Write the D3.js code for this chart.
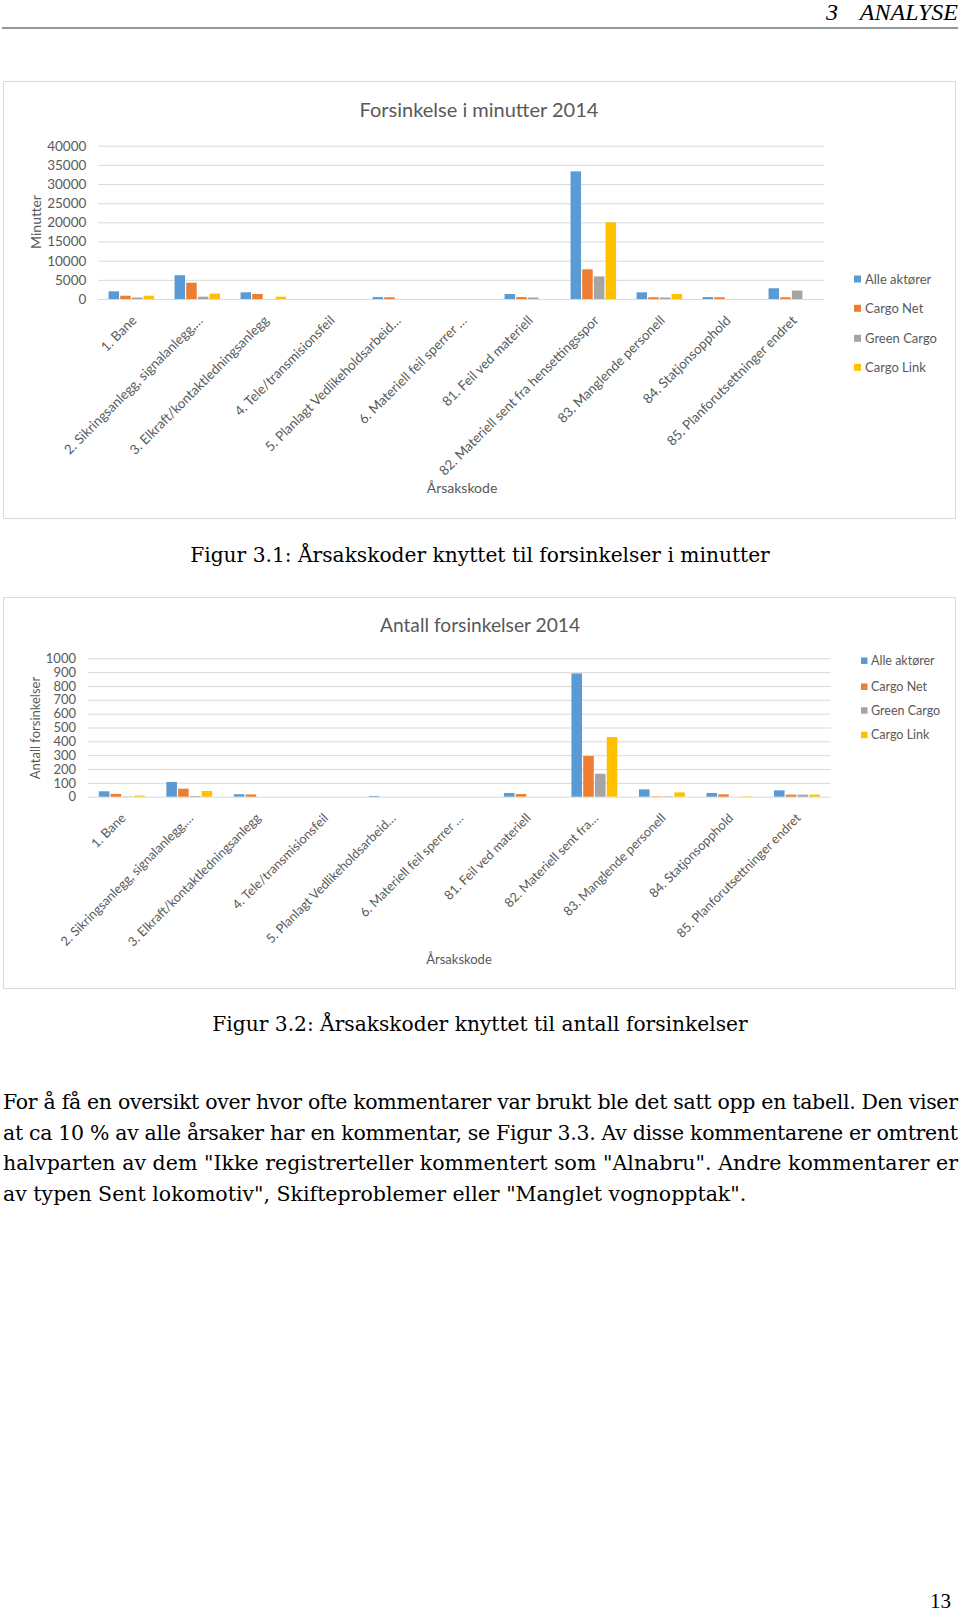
<!DOCTYPE html>
<html>
<head>
<meta charset="utf-8">
<script src="https://cdn.jsdelivr.net/npm/d3@7/dist/d3.min.js"></script>
<style>
  body { margin: 0; background: #fff; }
  svg { display: block; }
</style>
</head>
<body>
<svg id="page" width="960" height="1623"></svg>
<script>
// series shared by both charts
const seriesNames = ['Alle aktører', 'Cargo Net', 'Green Cargo', 'Cargo Link']
const seriesColors = ['#5b9bd5', '#ed7d31', '#a5a5a5', '#ffc000']

// figure 3.1 - minutes
const categoriesMinutes = [
  '1. Bane', '2. Sikringsanlegg, signalanlegg,…', '3. Elkraft/kontaktledningsanlegg',
  '4. Tele/transmisionsfeil', '5. Planlagt Vedlikeholdsarbeid…', '6. Materiell feil sperrer …',
  '81. Feil ved materiell', '82. Materiell sent fra hensettingsspor', '83. Manglende personell',
  '84. Statjonsopphold', '85. Planforutsettninger endret'
]
const minutesAlle = [2000, 6200, 1750, 0, 500, 0, 1300, 33300, 1750, 500, 2800]
const minutesCargoNet = [850, 4250, 1300, 0, 450, 0, 500, 7750, 450, 450, 450]
const minutesGreenCargo = [400, 600, 0, 0, 0, 0, 400, 5900, 400, 0, 2200]
const minutesCargoLink = [850, 1400, 600, 0, 0, 0, 0, 20000, 1300, 0, 0]
const minutesTicks = [0, 5000, 10000, 15000, 20000, 25000, 30000, 35000, 40000]

// figure 3.2 - number of delays
const categoriesCount = [
  '1. Bane', '2. Sikringsanlegg, signalanlegg,…', '3. Elkraft/kontaktledningsanlegg',
  '4. Tele/transmisionsfeil', '5. Planlagt Vedlikeholdsarbeid…', '6. Materiell feil sperrer …',
  '81. Feil ved materiell', '82. Materiell sent fra…', '83. Manglende personell',
  '84. Statjonsopphold', '85. Planforutsettninger endret'
]
const countAlle = [39, 106, 18, 0, 5, 0, 27, 891, 53, 27, 46]
const countCargoNet = [20, 58, 16, 0, 0, 0, 19, 294, 3, 17, 15]
const countGreenCargo = [2, 5, 0, 0, 0, 0, 0, 166, 3, 0, 15]
const countCargoLink = [8, 41, 0, 0, 0, 0, 0, 431, 31, 3, 15]
const countTicks = [0, 100, 200, 300, 400, 500, 600, 700, 800, 900, 1000]

const paragraph = [
  'For å få en oversikt over hvor ofte kommentarer var brukt ble det satt opp en tabell. Den viser',
  'at ca 10 % av alle årsaker har en kommentar, se Figur 3.3. Av disse kommentarene er omtrent',
  'halvparten av dem "Ikke registrerteller kommentert som "Alnabru". Andre kommentarer er',
  'av typen Sent lokomotiv", Skifteproblemer eller "Manglet vognopptak".'
]

const TEXT = '#595959'
const GRID = '#d9d9d9'
const SANS = 'Lato, "Open Sans", sans-serif'
const SERIF = '"DejaVu Serif", serif'

const svg = d3.select('#page')

function drawChart(o) {
  const g = svg.append('g')

  g.append('rect')
    .attr('x', o.box[0] + 0.5).attr('y', o.box[1] + 0.5)
    .attr('width', o.box[2] - o.box[0]).attr('height', o.box[3] - o.box[1])
    .attr('fill', '#fff').attr('stroke', GRID)

  const x0 = d3.scaleBand().domain(o.categories).range([o.left, o.right])
    .paddingInner(o.pad).paddingOuter(o.pad / 2)
  const x1 = d3.scaleBand().domain(seriesNames).range([0, x0.bandwidth()]).paddingInner(0.1)
  const y = d3.scaleLinear().domain([0, d3.max(o.ticks)]).range([o.bottom, o.top])

  // y axis + gridlines
  const ya = g.append('g')
    .attr('transform', `translate(${o.left},0)`)
    .call(d3.axisLeft(y).tickValues(o.ticks).tickFormat(d3.format('d'))
      .tickSize(-(o.right - o.left)).tickPadding(o.tickPad))
  ya.select('.domain').remove()
  ya.selectAll('line').attr('stroke', GRID)
  ya.selectAll('text').attr('fill', TEXT).style('font-family', SANS).style('font-size', o.tickSize + 'px')

  // bars
  const rows = o.categories.map((c, i) => ({
    cat: c,
    values: o.series.map((s, j) => ({ name: seriesNames[j], value: s[i], color: seriesColors[j] }))
  }))
  g.selectAll('g.cat').data(rows).join('g')
    .attr('class', 'cat')
    .attr('transform', d => `translate(${x0(d.cat)},0)`)
    .selectAll('rect').data(d => d.values).join('rect')
    .attr('x', d => x1(d.name))
    .attr('y', d => y(d.value))
    .attr('width', x1.bandwidth())
    .attr('height', d => y(0) - y(d.value))
    .attr('fill', d => d.color)

  // category labels, rotated like excel
  const xa = g.append('g')
    .attr('transform', `translate(0,${o.bottom})`)
    .call(d3.axisBottom(x0).tickSize(0))
  xa.select('.domain').remove()
  xa.selectAll('text')
    .attr('y', 0).attr('dy', '0.35em')
    .attr('text-anchor', 'end')
    .attr('transform', `translate(${o.labelDx},${o.labelDy}) rotate(-45)`)
    .attr('fill', TEXT)
    .style('font-family', SANS).style('font-size', o.labelSize + 'px')

  // titles
  g.append('text')
    .attr('x', o.titleX).attr('y', o.titleY)
    .attr('text-anchor', 'middle').attr('fill', TEXT)
    .style('font-family', SANS).style('font-size', o.titleSize + 'px')
    .text(o.title)

  g.append('text')
    .attr('transform', `translate(${o.yTitleX},${o.yTitleY}) rotate(-90)`)
    .attr('text-anchor', 'middle').attr('dy', '0.35em').attr('fill', TEXT)
    .style('font-family', SANS).style('font-size', o.axisTitleSize + 'px')
    .text(o.yTitle)

  g.append('text')
    .attr('x', o.xTitleX).attr('y', o.xTitleY)
    .attr('text-anchor', 'middle').attr('dy', '0.35em').attr('fill', TEXT)
    .style('font-family', SANS).style('font-size', o.axisTitleSize + 'px')
    .text('Årsakskode')

  // legend
  const lg = g.selectAll('g.legend').data(seriesNames).join('g')
    .attr('class', 'legend')
    .attr('transform', (d, i) => `translate(${o.legendX},${o.legendRows[i]})`)
  lg.append('rect')
    .attr('x', 0).attr('y', -o.legendSq / 2)
    .attr('width', o.legendSq).attr('height', o.legendSq)
    .attr('fill', (d, i) => seriesColors[i])
  lg.append('text')
    .attr('x', o.legendText).attr('dy', '0.35em').attr('fill', TEXT)
    .style('font-family', SANS).style('font-size', o.legendSize + 'px')
    .text(d => d)
}

// page header
svg.append('text').attr('x', 826).attr('y', 20)
  .style('font-family', '"Liberation Serif", serif').style('font-style', 'italic').style('font-size', '24px')
  .text('3')
svg.append('text').attr('x', 958).attr('y', 20).attr('text-anchor', 'end')
  .style('font-family', '"Liberation Serif", serif').style('font-style', 'italic').style('font-size', '24px')
  .text('ANALYSE')
svg.append('line').attr('x1', 2).attr('x2', 958).attr('y1', 28).attr('y2', 28)
  .attr('stroke', '#333').attr('stroke-width', 1.2)

drawChart({
  box: [3, 81, 955, 518],
  left: 98.3, right: 824.3, top: 145.7, bottom: 299,
  pad: 0.31, ticks: minutesTicks, tickPad: 12, tickSize: 13.5,
  categories: categoriesMinutes,
  series: [minutesAlle, minutesCargoNet, minutesGreenCargo, minutesCargoLink],
  labelDx: 3, labelDy: 19, labelSize: 13.4,
  title: 'Forsinkelse i minutter 2014', titleX: 479, titleY: 117, titleSize: 20,
  yTitle: 'Minutter', yTitleX: 36, yTitleY: 222, axisTitleSize: 14,
  xTitleX: 462, xTitleY: 488,
  legendX: 854, legendRows: [279, 308.3, 338.3, 367.3], legendSq: 7, legendText: 11, legendSize: 13
})

drawChart({
  box: [3, 597, 955, 988],
  left: 88, right: 830.7, top: 658.3, bottom: 796.7,
  pad: 0.32, ticks: countTicks, tickPad: 12, tickSize: 13,
  categories: categoriesCount,
  series: [countAlle, countCargoNet, countGreenCargo, countCargoLink],
  labelDx: 1.5, labelDy: 19, labelSize: 12.8,
  title: 'Antall forsinkelser 2014', titleX: 480, titleY: 632, titleSize: 19.2,
  yTitle: 'Antall forsinkelser', yTitleX: 35, yTitleY: 728, axisTitleSize: 13,
  xTitleX: 459, xTitleY: 959,
  legendX: 861, legendRows: [660.7, 686.7, 710.5, 735], legendSq: 6.5, legendText: 10, legendSize: 12.5
})

// captions
svg.append('text').attr('x', 480).attr('y', 562).attr('text-anchor', 'middle')
  .style('font-family', SERIF).style('font-size', '20.2px')
  .text('Figur 3.1: Årsakskoder knyttet til forsinkelser i minutter')
svg.append('text').attr('x', 480).attr('y', 1031).attr('text-anchor', 'middle')
  .style('font-family', SERIF).style('font-size', '20.2px')
  .text('Figur 3.2: Årsakskoder knyttet til antall forsinkelser')

// body text, justified except last line
svg.selectAll('text.para').data(paragraph).join('text')
  .attr('class', 'para')
  .attr('x', 3)
  .attr('y', (d, i) => 1109 + i * 30.5)
  .attr('textLength', (d, i) => i < paragraph.length - 1 ? 955 : null)
  .attr('lengthAdjust', 'spacing')
  .style('font-family', SERIF).style('font-size', '20.5px')
  .text(d => d)

svg.append('text').attr('x', 951).attr('y', 1608).attr('text-anchor', 'end')
  .style('font-family', '"Liberation Serif", serif').style('font-size', '21px')
  .text('13')
</script>
</body>
</html>
